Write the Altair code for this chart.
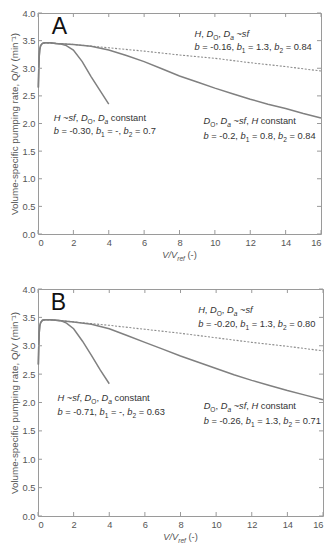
import altair as alt
import pandas as pd

# ---------------- data ----------------
x_ticks = [0, 2, 4, 6, 8, 10, 12, 14, 16]
y_ticks = [0.0, 0.5, 1.0, 1.5, 2.0, 2.5, 3.0, 3.5, 4.0]

# Panel A
a_h_x = [0.02, 0.04, 0.07, 0.10, 0.15, 0.25, 0.4, 0.7, 1.0, 1.3, 1.6, 2.0, 2.5, 3.0, 3.5, 4.0]
a_h_y = [2.65, 2.95, 3.22, 3.34, 3.41, 3.45, 3.46, 3.46, 3.45, 3.44, 3.41, 3.33, 3.12, 2.85, 2.60, 2.35]
a_d_x = [0.02, 0.04, 0.07, 0.10, 0.15, 0.25, 0.4, 0.7, 1, 2, 3, 4, 5, 6, 7, 8, 9, 10, 11, 12, 13, 14, 15, 16]
a_d_y = [2.65, 2.95, 3.22, 3.34, 3.41, 3.45, 3.46, 3.46, 3.45, 3.43, 3.40, 3.33, 3.23, 3.12, 2.99, 2.86, 2.75, 2.64, 2.54, 2.44, 2.35, 2.27, 2.18, 2.10]
a_s_x = [0.3, 1, 2, 4, 6, 8, 10, 12, 14, 16]
a_s_y = [3.46, 3.45, 3.43, 3.37, 3.31, 3.24, 3.18, 3.10, 3.03, 2.95]

# Panel B
b_h_x = [0.02, 0.04, 0.07, 0.10, 0.15, 0.25, 0.4, 0.7, 1.0, 1.3, 1.6, 2.0, 2.5, 3.0, 3.5, 4.0]
b_h_y = [2.67, 2.97, 3.23, 3.35, 3.41, 3.45, 3.46, 3.46, 3.45, 3.44, 3.40, 3.30, 3.08, 2.83, 2.57, 2.33]
b_d_x = [0.02, 0.04, 0.07, 0.10, 0.15, 0.25, 0.4, 0.7, 1, 2, 3, 4, 5, 6, 7, 8, 9, 10, 11, 12, 13, 14, 15, 16]
b_d_y = [2.67, 2.97, 3.23, 3.35, 3.41, 3.45, 3.46, 3.46, 3.45, 3.42, 3.38, 3.30, 3.18, 3.06, 2.94, 2.82, 2.71, 2.60, 2.49, 2.39, 2.30, 2.21, 2.13, 2.05]
b_s_x = [0.3, 1, 2, 4, 6, 8, 10, 12, 14, 16]
b_s_y = [3.46, 3.45, 3.42, 3.36, 3.29, 3.22, 3.14, 3.06, 2.99, 2.91]

# annotation texts (b, b1, b2 for: H,D~sf / H~sf / D~sf)
b_A = ["-0.16", "-0.30", "-0.2"]
b1_A = ["1.3", "-", "0.8"]
b2_A = ["0.84", "0.7", "0.84"]
b_B = ["-0.20", "-0.71", "-0.26"]
b1_B = ["1.3", "-", "1.3"]
b2_B = ["0.80", "0.63", "0.71"]

# ---------------- styling ----------------
FONT = "Liberation Sans"
FS = 9.3
SUB = 6.6
SUB_DY = 3.0
TXT = "#333333"
AX = "#555555"
FRAME = "#9a9a9a"
LINE = "#808080"

ARIAL = {' ': 278, ',': 278, '-': 333, '.': 278, '/': 278, '=': 584, '~': 584, '(': 333, ')': 333,
         'A': 667, 'B': 667, 'D': 722, 'H': 722, 'O': 778, 'Q': 778, 'V': 667,
         'a': 556, 'b': 556, 'c': 500, 'e': 556, 'f': 278, 'i': 222, 'm': 833, 'n': 556,
         'o': 556, 'r': 333, 's': 500, 't': 278, 'u': 556, 'l': 222, 'p': 556, 'g': 556}


def tw(s, size):
    return sum(ARIAL.get(c, 556) for c in s) * size / 1000.0


def line_hd_sf():
    return [("H", "i"), (", ", "n"), ("D", "i"), ("O", "sn"), (", ", "n"), ("D", "i"), ("a", "si"),
            (" ~", "n"), ("sf", "i")]


def line_h_sf():
    return [("H", "i"), (" ~", "n"), ("sf", "i"), (", ", "n"), ("D", "i"), ("O", "sn"), (", ", "n"),
            ("D", "i"), ("a", "si"), (" constant", "n")]


def line_d_sf():
    return [("D", "i"), ("O", "sn"), (", ", "n"), ("D", "i"), ("a", "si"), (" ~", "n"), ("sf", "i"),
            (", ", "n"), ("H", "i"), (" constant", "n")]


def line_params(b, b1, b2):
    return [("b", "i"), (" = " + b + ", ", "n"), ("b", "i"), ("1", "sn"), (" = " + b1 + ", ", "n"),
            ("b", "i"), ("2", "sn"), (" = " + b2, "n")]


def split_lead(text, size):
    stripped = text.lstrip(" ")
    lead = tw(text[:len(text) - len(stripped)], size)
    return stripped.rstrip(" "), lead


def segments(lines, pxx, pxy):
    rows = []
    for (x0, y0, segs) in lines:
        off = 0.0
        for text, st in segs:
            size = SUB if st.startswith("s") else FS
            dy = SUB_DY if st.startswith("s") else 0.0
            vis, lead = split_lead(text, size)
            if vis:
                rows.append({"x": x0 + (off + lead) / pxx, "y": y0 - dy / pxy, "t": vis, "st": st})
            off += tw(text, size)
    return pd.DataFrame(rows)


def panel(letter, W, H, hx, hy, dx_, dy_, sx, sy, bs, b1s, b2s, pos, letter_pos):
    pxx = W / 16.0
    pxy = H / 4.0
    xs = alt.X("x:Q", scale=alt.Scale(domain=[0, 16], nice=False, zero=False),
               axis=alt.Axis(values=x_ticks, format="d", ticks=False, domain=False, grid=False,
                             labelFont=FONT, labelFontSize=FS, labelColor=AX, labelPadding=4, title=None))
    ys = alt.Y("y:Q", scale=alt.Scale(domain=[0, 4], nice=False, zero=False),
               axis=alt.Axis(values=y_ticks, format=".1f", ticks=False, domain=False, grid=False,
                             labelFont=FONT, labelFontSize=FS, labelColor=AX, labelPadding=3,
                             title="Volume-specific pumping rate, Q/V (min\u207b\u00b9)",
                             titleFont=FONT, titleFontSize=9.8, titleFontWeight="normal",
                             titleColor=AX, titlePadding=3))

    df_h = pd.DataFrame({"x": hx, "y": hy})
    df_d = pd.DataFrame({"x": dx_, "y": dy_})
    df_s = pd.DataFrame({"x": sx, "y": sy})

    l_s = alt.Chart(df_s).mark_line(color="#8c8c8c", strokeWidth=1.1, strokeDash=[2, 1.6]).encode(
        x=xs, y=ys, order="x:Q")
    l_d = alt.Chart(df_d).mark_line(color=LINE, strokeWidth=1.5).encode(x=xs, y=ys, order="x:Q")
    l_h = alt.Chart(df_h).mark_line(color=LINE, strokeWidth=1.5).encode(x=xs, y=ys, order="x:Q")

    xt = pd.DataFrame({"x": x_ticks})
    yt = pd.DataFrame({"y": y_ticks})
    tk = dict(color=FRAME, strokeWidth=1)
    t_b = alt.Chart(xt).mark_rule(**tk).encode(x=xs, y=alt.value(H), y2=alt.value(H - 4))
    t_t = alt.Chart(xt).mark_rule(**tk).encode(x=xs, y=alt.value(0), y2=alt.value(4))
    t_l = alt.Chart(yt).mark_rule(**tk).encode(y=ys, x=alt.value(0), x2=alt.value(4))
    t_r = alt.Chart(yt).mark_rule(**tk).encode(y=ys, x=alt.value(W), x2=alt.value(W - 4))

    lines = [
        (pos[0][0], pos[0][1], line_hd_sf()),
        (pos[0][0], pos[0][1] - 0.245, line_params(bs[0], b1s[0], b2s[0])),
        (pos[1][0], pos[1][1], line_h_sf()),
        (pos[1][0], pos[1][1] - 0.245, line_params(bs[1], b1s[1], b2s[1])),
        (pos[2][0], pos[2][1], line_d_sf()),
        (pos[2][0], pos[2][1] - 0.27, line_params(bs[2], b1s[2], b2s[2])),
    ]
    seg = segments(lines, pxx, pxy)
    txt_layers = []
    for st, size, style in [("n", FS, "normal"), ("i", FS, "italic"), ("sn", SUB, "normal"), ("si", SUB, "italic")]:
        d = seg[seg["st"] == st]
        txt_layers.append(
            alt.Chart(d).mark_text(align="left", baseline="alphabetic", font=FONT, fontSize=size,
                                   fontStyle=style, color=TXT).encode(x=xs, y=ys, text="t:N"))

    let = alt.Chart(pd.DataFrame({"x": [letter_pos[0]], "y": [letter_pos[1]], "t": [letter]})).mark_text(
        align="left", baseline="alphabetic", font=FONT, fontSize=23, color="#111111").encode(
        x=xs, y=ys, text="t:N")

    # x axis title: V/V_ref (-)
    parts = [("V/V", FS, "italic", 0), ("ref", SUB, "italic", SUB_DY), (" (-)", FS, "normal", 0)]
    total = sum(tw(p[0], p[1]) for p in parts)
    start = W / 2.0 - total / 2.0
    xt_layers = []
    off = 0.0
    for text, size, style, dyy in parts:
        vis, lead = split_lead(text, size)
        xt_layers.append(
            alt.Chart(pd.DataFrame({"t": [vis]})).mark_text(
                align="left", baseline="alphabetic", font=FONT, fontSize=size, fontStyle=style,
                color=AX).encode(x=alt.value(start + off + lead), y=alt.value(H + 24 + dyy), text="t:N"))
        off += tw(text, size)

    return alt.layer(l_s, l_d, l_h, t_b, t_t, t_l, t_r, let, *txt_layers, *xt_layers).properties(
        width=W, height=H)


pA = panel("A", 283, 221, a_h_x, a_h_y, a_d_x, a_d_y, a_s_x, a_s_y, b_A, b1_A, b2_A,
           [(8.85, 3.57), (0.89, 2.05), (9.36, 1.99)], (0.78, 3.62))
pB = panel("B", 285, 227, b_h_x, b_h_y, b_d_x, b_d_y, b_s_x, b_s_y, b_B, b1_B, b2_B,
           [(8.99, 3.57), (1.09, 2.03), (9.30, 1.89)], (0.72, 3.63))

chart = alt.vconcat(pA, pB, spacing=20).properties(
    padding={"left": 0, "top": 0, "right": 0, "bottom": 0}
).configure_view(stroke=FRAME, strokeWidth=1)

chart.save("out.html", embed_options={"renderer": "svg", "actions": False})
